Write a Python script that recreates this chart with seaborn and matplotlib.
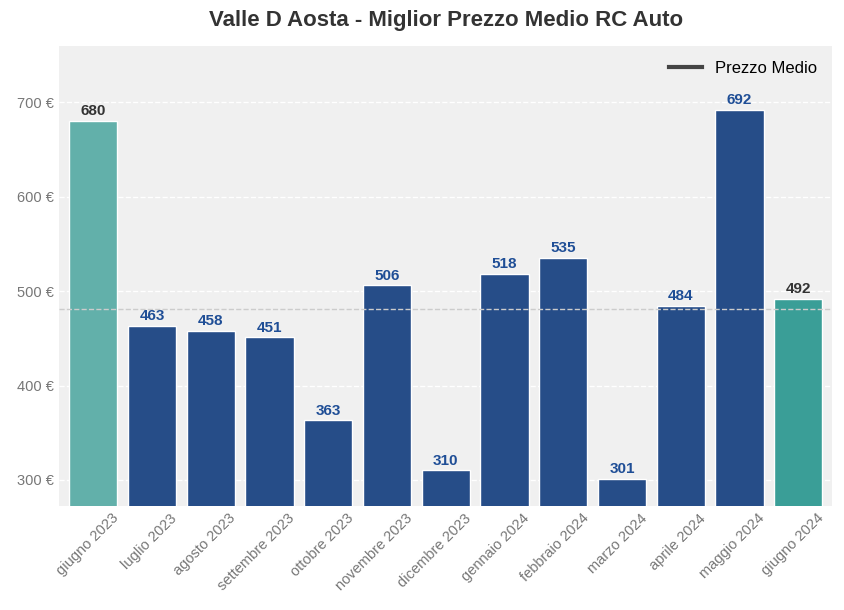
import matplotlib
matplotlib.use("Agg")
import matplotlib.pyplot as plt
import seaborn as sns
import pandas as pd
from matplotlib.ticker import FuncFormatter

plt.rcParams["font.family"] = "Liberation Sans"

months = ["giugno 2023","luglio 2023","agosto 2023","settembre 2023","ottobre 2023","novembre 2023",
          "dicembre 2023","gennaio 2024","febbraio 2024","marzo 2024","aprile 2024","maggio 2024","giugno 2024"]
prices = [680,463,458,451,363,506,310,518,535,301,484,692,492]
mean_price = 481

colors = ["#62b0aa"] + ["#264d88"]*11 + ["#3a9e97"]
df = pd.DataFrame({"mese": months, "prezzo": prices})

fig, ax = plt.subplots(figsize=(8.45, 6.10), dpi=100)
fig.patch.set_facecolor("white")
ax.set_facecolor("#f0f0f0")
sns.barplot(data=df, x="mese", y="prezzo", hue="mese", palette=colors, legend=False,
            ax=ax, width=0.82, saturation=1, edgecolor="white", linewidth=1, zorder=2)
ax.set_xlim(-0.58, 12.58)
ax.set_ylim(272, 760)
ax.yaxis.set_major_formatter(FuncFormatter(lambda v, p: f"{int(v)} €"))
ax.set_yticks([300,400,500,600,700])
ax.grid(axis="y", color="white", linestyle="--", linewidth=1, zorder=0)
ax.axhline(mean_price, color="#cccccc", linestyle="--", linewidth=1, zorder=3)
ax.plot([], [], color="#444444", linewidth=3, label="Prezzo Medio")
ax.legend(loc="upper right", frameon=False, fontsize=12)
for i, v in enumerate(prices):
    c = "#333333" if i in (0, len(prices)-1) else "#1f4e96"
    ax.text(i, v + 3, str(v), ha="center", va="bottom", fontsize=11, fontweight="bold", color=c)
for s in ax.spines.values():
    s.set_visible(False)
ax.tick_params(length=0, colors="#777777", labelsize=10.5)
plt.setp(ax.get_xticklabels(), rotation=45, ha="right", rotation_mode="anchor")
for lab in ax.get_xticklabels():
    lab.set_x(lab.get_position()[0])
ax.set_xlabel(""); ax.set_ylabel("")
ax.set_title("Valle D Aosta - Miglior Prezzo Medio RC Auto", fontsize=16, fontweight="bold", color="#333333", pad=14)
fig.subplots_adjust(left=0.07, right=0.985, top=0.925, bottom=0.17)
import matplotlib.transforms as mt
for lab in ax.get_xticklabels():
    lab.set_transform(lab.get_transform() + mt.ScaledTranslation(0.18, 0, fig.dpi_scale_trans))
fig.savefig("out.png", dpi=100)
